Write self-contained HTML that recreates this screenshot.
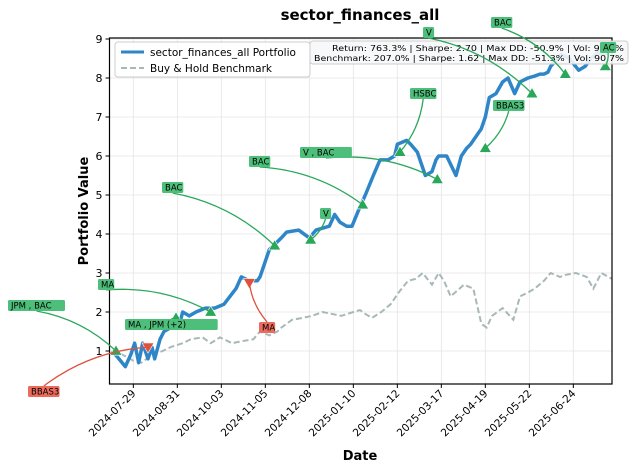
<!DOCTYPE html>
<html><head><meta charset="utf-8"><style>
body{margin:0;background:#fff;}
svg{display:block;font-family:"DejaVu Sans","Liberation Sans",sans-serif;}
</style></head><body>
<svg id="chart" width="631" height="470" viewBox="0 0 631 470">
<rect width="631" height="470" fill="#fff"/>
<text x="360" y="20" text-anchor="middle" font-size="15" font-weight="bold">sector_finances_all</text>
<g id="grid"></g>
<g id="series"></g>
<g id="marks"></g>
<g id="axes"></g>
<text x="88" y="211" transform="rotate(-90 88 211)" text-anchor="middle" font-size="13" font-weight="bold">Portfolio Value</text>
<text x="360" y="460" text-anchor="middle" font-size="13" font-weight="bold">Date</text>
<g>
<rect x="115" y="42" width="195" height="35" rx="3" fill="#fff" fill-opacity="0.85" stroke="#ccc"/>
<line x1="121" y1="52" x2="144" y2="52" stroke="#2e86c8" stroke-width="3"/>
<text x="150" y="56" font-size="10.5">sector_finances_all Portfolio</text>
<line x1="121" y1="68" x2="144" y2="68" stroke="#a8b8b8" stroke-width="2" stroke-dasharray="6,3"/>
<text x="150" y="72" font-size="10.5">Buy &amp; Hold Benchmark</text>
</g>
<g>
<rect x="310" y="41" width="318" height="23" rx="3" fill="#f6f7f8" fill-opacity="0.9" stroke="#ccc"/>
<text x="624" y="51" text-anchor="end" font-size="8" textLength="292" lengthAdjust="spacingAndGlyphs">Return: 763.3% | Sharpe: 2.70 | Max DD: -50.9% | Vol: 91.5%</text>
<text x="624" y="61" text-anchor="end" font-size="8" textLength="310" lengthAdjust="spacingAndGlyphs">Benchmark: 207.0% | Sharpe: 1.62 | Max DD: -51.3% | Vol: 90.7%</text>
</g>
<g id="annots"></g>
</svg>
<script>
// day offsets from 2024-07-13
const days = [0,4,10,14,17,20,23,27,30,32,36,39,44,50,53,58,63,70,77,84,93,97,103,109,111,118,121,127,131,140,148,153,163,167,171,176,180,186,190,196,201,207,212,214,221,224,229,235,240,243,245,251,258,262,266,269,277,280,283,288,293,297,302,306,312,317,321,324,327,329,337,343,350,355,359,363,364,369,372,375];
const portfolio = [1.0,0.85,0.6,0.9,1.2,0.7,1.2,0.8,1.1,0.8,1.3,1.5,1.6,1.6,2.0,1.9,2.0,2.1,2.1,2.2,2.6,2.9,2.8,2.8,2.9,3.6,3.7,3.9,4.05,4.1,3.9,4.1,4.2,4.5,4.3,4.2,4.2,4.7,5.0,5.5,5.9,5.9,6.0,6.3,6.4,6.3,6.1,5.5,5.6,5.9,6.0,6.0,5.5,6.0,6.2,6.3,6.7,7.0,7.5,7.6,7.9,8.0,7.6,7.9,8.0,8.05,8.1,8.1,8.15,8.3,8.6,8.5,8.2,8.3,8.5,8.6,8.65,8.6,8.7,8.7];
const bdays = [0,5,11,16,22,30,38,44,53,59,68,74,81,90,97,106,111,118,124,127,135,143,150,158,165,172,181,186,190,195,202,209,215,222,228,233,240,245,249,254,264,271,277,281,285,293,301,306,312,317,324,329,336,340,348,356,361,367,375];
const benchmark = [1.0,0.95,0.85,0.75,0.7,0.9,1.0,1.1,1.2,1.3,1.35,1.2,1.35,1.2,1.25,1.3,1.5,1.4,1.5,1.6,1.8,1.85,1.9,2.0,1.95,1.9,2.0,2.05,1.95,1.85,2.0,2.2,2.5,2.8,2.85,3.0,2.7,3.0,2.8,2.4,2.7,2.6,1.7,1.6,1.9,2.1,1.8,2.4,2.5,2.6,2.8,3.0,2.9,2.95,3.0,2.9,2.6,3.0,2.85];
const yTicks = [1,2,3,4,5,6,7,8,9];
const xTickLabels = ["2024-07-29","2024-08-31","2024-10-03","2024-11-05","2024-12-08","2025-01-10","2025-02-12","2025-03-17","2025-04-19","2025-05-22","2025-06-24"];
const xTickDays = [16,49,82,115,148,181,214,247,280,313,346];
const tradeDays = [3,27,48,74,103,122,149,188,216,244,280,315,340,370];
const tradeVals = [1.0,1.1,1.85,2.0,2.75,3.7,3.85,4.75,6.1,5.4,6.2,7.6,8.1,8.3];
const tradeSide = ["buy","sell","buy","buy","sell","buy","buy","buy","buy","buy","buy","buy","buy","buy"];
const tradeLabels = ["JPM  , BAC","BBAS3","MA   , JPM   (+2)","MA","MA","BAC","V","BAC","HSBC","V   , BAC","BBAS3","V","BAC","AC"];

const L=109.5,R=612,T=38,B=384;
const x=d=>112+d*1.3333;
const y=v=>351-(v-1)*39;
const NS="http://www.w3.org/2000/svg";
function mk(tag,attrs,parent){const e=document.createElementNS(NS,tag);for(const k in attrs)e.setAttribute(k,attrs[k]);parent.appendChild(e);return e;}
const grid=document.getElementById('grid'),axes=document.getElementById('axes'),series=document.getElementById('series'),marks=document.getElementById('marks'),ann=document.getElementById('annots');
yTicks.forEach(v=>{
  const g=mk('line',{x1:L,x2:R,y1:y(v),y2:y(v),stroke:'#e5e5e5','stroke-width':0.8},grid);
  
  
  mk('line',{x1:L-4,x2:L,y1:y(v),y2:y(v),stroke:'#000'},axes);
  const t=mk('text',{x:L-7,y:y(v)+4,'text-anchor':'end','font-size':11},axes);t.textContent=v;
  
  
});
xTickDays.forEach((d,i)=>{
  const xx=x(d);
  const g=mk('line',{x1:xx,x2:xx,y1:T,y2:B,stroke:'#e5e5e5','stroke-width':0.8},grid);
  
  
  mk('line',{x1:xx,x2:xx,y1:B,y2:B+4,stroke:'#000'},axes);
  const t=mk('text',{x:xx+3,y:B+10,'text-anchor':'end','font-size':10.5,transform:`rotate(-45 ${xx+3} ${B+10})`},axes);t.textContent=xTickLabels[i];
  
  
});
const fr=mk('rect',{x:L,y:T,width:R-L,height:B-T,fill:'none',stroke:'#000','stroke-width':1.2},axes);


const bp=mk('polyline',{points:bdays.map((d,i)=>x(d)+','+y(benchmark[i])).join(' '),fill:'none',stroke:'#a8b8b8','stroke-width':2,'stroke-dasharray':'6,3'},series);


const pp=mk('polyline',{points:days.map((d,i)=>x(d)+','+y(portfolio[i])).join(' '),fill:'none',stroke:'#2e86c8','stroke-width':3.5,'stroke-linejoin':'round'},series);


// label box positions (layout)
const boxPos=[[8,300],[28,386],[125,319],[98,279],[259,322],[162,182],[320,208],[249,156],[410,88],[300,147],[493,100],[423,27],[491,17],[600,42]];
tradeDays.forEach((d,i)=>{
  const px=x(d),py=y(tradeVals[i]);
  const buy=tradeSide[i]==='buy';const col=buy?'#2aa85a':'#e0513c';
  const [bx,by]=boxPos[i];const w=tradeLabels[i].length*5.1+6;
  const sx=bx+w/2,sy=by+(by<py?11:0);
  const cx=(sx+px)/2+(py-sy)*0.15,cy=(sy+py)/2-(px-sx)*0.15;
  const a=mk('path',{d:`M${sx},${sy} Q${cx},${cy} ${px},${py}`,fill:'none',stroke:col,'stroke-width':1.3},ann);
  
  
  const r=mk('rect',{x:bx,y:by,width:w,height:11,rx:1.5,fill:buy?'#4dbf7a':'#ec6b5c'},ann);
  
  
  const t=mk('text',{x:bx+3,y:by+8.7,'font-size':8.5},ann);t.textContent=tradeLabels[i];
  
  
  const s=6;
  const pts=buy?`${px},${py-s} ${px-s},${py+s*0.7} ${px+s},${py+s*0.7}`:`${px},${py+s} ${px-s},${py-s*0.7} ${px+s},${py-s*0.7}`;
  const m=mk('polygon',{points:pts,fill:col,stroke:'#fff','stroke-width':0.6},marks);
  
  
});
</script>
</body></html>
